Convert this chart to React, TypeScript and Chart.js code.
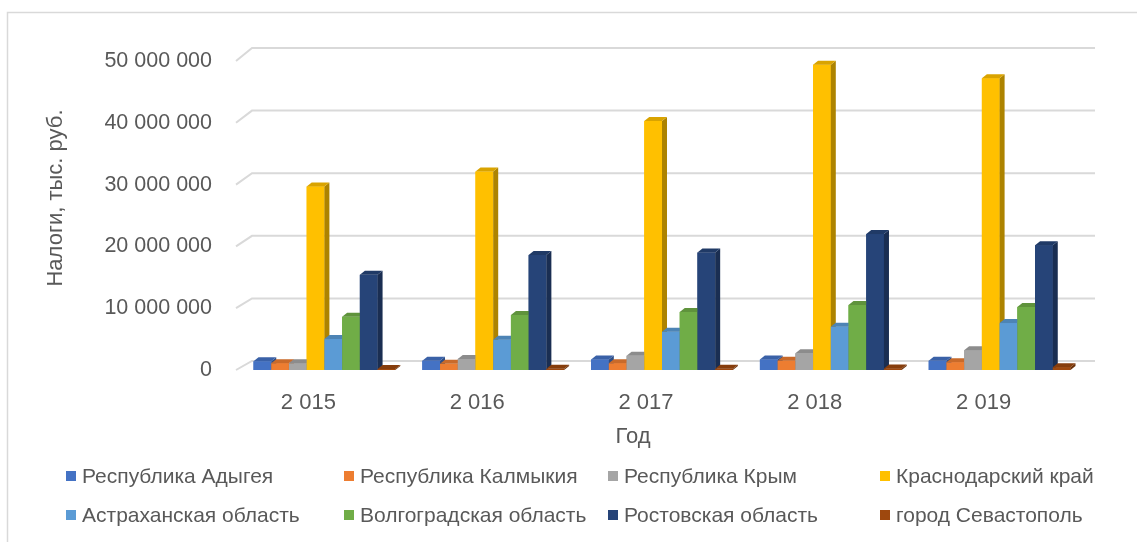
import React, { useEffect, useRef } from "react";
import { Chart, registerables } from "chart.js";

Chart.register(...registerables);

// ---- data ----
const categories = ["2 015", "2 016", "2 017", "2 018", "2 019"];
const seriesNames = [
  "Республика Адыгея",
  "Республика Калмыкия",
  "Республика Крым",
  "Краснодарский край",
  "Астраханская область",
  "Волгоградская область",
  "Ростовская область",
  "город Севастополь",
];
const adygea = [1400000, 1500000, 1700000, 1700000, 1500000];
const kalmykia = [1100000, 1000000, 1100000, 1500000, 1250000];
const crimea = [1100000, 1800000, 2300000, 2700000, 3200000];
const krasnodar = [29700000, 32100000, 40300000, 49400000, 47200000];
const astrakhan = [5000000, 4900000, 6200000, 7000000, 7600000];
const volgograd = [8600000, 8900000, 9400000, 10500000, 10200000];
const rostov = [15400000, 18600000, 19000000, 22000000, 20200000];
const sevastopol = [150000, 200000, 200000, 250000, 450000];
const seriesValues = [adygea, kalmykia, crimea, krasnodar, astrakhan, volgograd, rostov, sevastopol];
const yTickValues = [0, 10000000, 20000000, 30000000, 40000000, 50000000];
const yTitle = "Налоги, тыс. руб.";
const xTitle = "Год";

// ---- styles ----
const seriesColors = ["#4472C4", "#ED7D31", "#A5A5A5", "#FFC000", "#5B9BD5", "#70AD47", "#264478", "#9E480E"];
const FONT = "'Liberation Sans', Arial, sans-serif";
const TEXT = "#595959";
const GRID = "#d9d9d9";

function shade(hex: string, f: number) {
  const n = parseInt(hex.slice(1), 16);
  const r = Math.round(((n >> 16) & 255) * f);
  const g = Math.round(((n >> 8) & 255) * f);
  const b = Math.round((n & 255) * f);
  return `rgb(${r},${g},${b})`;
}

const fmt = (v: number) => String(v).replace(/\B(?=(\d{3})+(?!\d))/g, " ");

const DX = 5;
const DY = 4;

const borderPlugin = {
  id: "border",
  beforeDraw(chart: any) {
    const ctx = chart.ctx;
    ctx.save();
    ctx.strokeStyle = GRID;
    ctx.lineWidth = 1.5;
    ctx.beginPath();
    ctx.moveTo(7.5, chart.height);
    ctx.lineTo(7.5, 12.5);
    ctx.lineTo(chart.width, 12.5);
    ctx.stroke();
    ctx.restore();
  },
};

const grid3d = {
  id: "grid3d",
  beforeDatasetsDraw(chart: any) {
    const { ctx, chartArea } = chart;
    const y = chart.scales.y;
    ctx.save();
    ctx.strokeStyle = GRID;
    ctx.lineWidth = 2;
    y.ticks.forEach((t: any) => {
      const py = y.getPixelForValue(t.value);
      const frac = (t.value - y.min) / (y.max - y.min);
      const dy = 9 + 4 * frac;
      ctx.beginPath();
      ctx.moveTo(chartArea.left - 4, py);
      ctx.lineTo(chartArea.left + 12, py - dy);
      ctx.lineTo(chartArea.right + 11, py - dy);
      ctx.stroke();
    });
    ctx.restore();
  },
};

const bars3d = {
  id: "bars3d",
  afterDatasetsDraw(chart: any) {
    const ctx = chart.ctx;
    ctx.save();
    const n = chart.data.labels.length;
    for (let i = 0; i < n; i++) {
      chart.data.datasets.forEach((ds: any, d: number) => {
        const el = chart.getDatasetMeta(d).data[i];
        if (!el) return;
        const { x, y, base, width } = el.getProps(["x", "y", "base", "width"], true);
        const l = x - width / 2;
        const r = x + width / 2;
        const c = ds.backgroundColor;
        ctx.fillStyle = c;
        ctx.fillRect(l, y, width, base - y);
        ctx.fillStyle = shade(c, 0.68);
        ctx.beginPath();
        ctx.moveTo(r, y);
        ctx.lineTo(r + DX, y - DY);
        ctx.lineTo(r + DX, base - DY);
        ctx.lineTo(r, base);
        ctx.closePath();
        ctx.fill();
        ctx.fillStyle = shade(c, 0.85);
        ctx.beginPath();
        ctx.moveTo(l, y);
        ctx.lineTo(l + DX, y - DY);
        ctx.lineTo(r + DX, y - DY);
        ctx.lineTo(r, y);
        ctx.closePath();
        ctx.fill();
      });
    }
    ctx.restore();
  },
};

const legendCols = [66, 344, 608, 880];
const legendRows = [476, 515];

const textPlugin = {
  id: "texts",
  afterDraw(chart: any) {
    const ctx = chart.ctx;
    ctx.save();
    ctx.fillStyle = TEXT;
    ctx.font = `22px ${FONT}`;
    ctx.textBaseline = "middle";
    // y title
    ctx.save();
    ctx.translate(56, 198);
    ctx.rotate(-Math.PI / 2);
    ctx.textAlign = "center";
    ctx.fillText(yTitle, 0, 0);
    ctx.restore();
    // x title
    ctx.textAlign = "center";
    ctx.fillText(xTitle, 633, 437);
    // legend
    ctx.font = `21px ${FONT}`;
    ctx.textAlign = "left";
    chart.data.datasets.forEach((ds: any, i: number) => {
      const x = legendCols[i % 4];
      const yy = legendRows[Math.floor(i / 4)];
      ctx.fillStyle = ds.backgroundColor;
      ctx.fillRect(x, yy - 5, 10, 10);
      ctx.fillStyle = TEXT;
      ctx.fillText(ds.label, x + 16, yy + 1);
    });
    ctx.restore();
  },
};

export default function App() {
  const ref = useRef<HTMLCanvasElement | null>(null);
  useEffect(() => {
    if (!ref.current) return;
    const chart = new Chart(ref.current, {
      type: "bar",
      data: {
        labels: categories,
        datasets: seriesNames.map((name, i) => ({
          label: name,
          data: seriesValues[i],
          backgroundColor: seriesColors[i],
          borderWidth: 0,
          barPercentage: 1,
          categoryPercentage: 0.84,
        })),
      },
      options: {
        responsive: false,
        animation: false,
        layout: { padding: { top: 61, right: 53, bottom: 112, left: 0 } },
        plugins: { legend: { display: false }, tooltip: { enabled: false } },
        scales: {
          x: {
            grid: { display: false, drawTicks: false },
            border: { display: false },
            ticks: { color: TEXT, font: { family: FONT, size: 22 }, padding: 20, labelOffset: -16 },
            afterFit: (s: any) => {
              s.height = 60;
            },
          },
          y: {
            min: 0,
            max: 50000000,
            grid: { display: false, drawTicks: false },
            border: { display: false },
            afterBuildTicks: (s: any) => {
              s.ticks = yTickValues.map((v) => ({ value: v }));
            },
            ticks: {
              color: TEXT,
              font: { family: FONT, size: 21.5 },
              padding: 28,
              callback: (v: any) => fmt(Number(v)),
            },
            afterFit: (s: any) => {
              s.width = 240;
            },
          },
        },
      },
      plugins: [borderPlugin, grid3d, bars3d, textPlugin],
    });
    return () => chart.destroy();
  }, []);
  return (
    <div style={{ position: "fixed", left: 0, top: 0, width: 1137, height: 542, background: "#fff" }}>
      <canvas ref={ref} width={1137} height={542} style={{ display: "block" }} />
    </div>
  );
}
